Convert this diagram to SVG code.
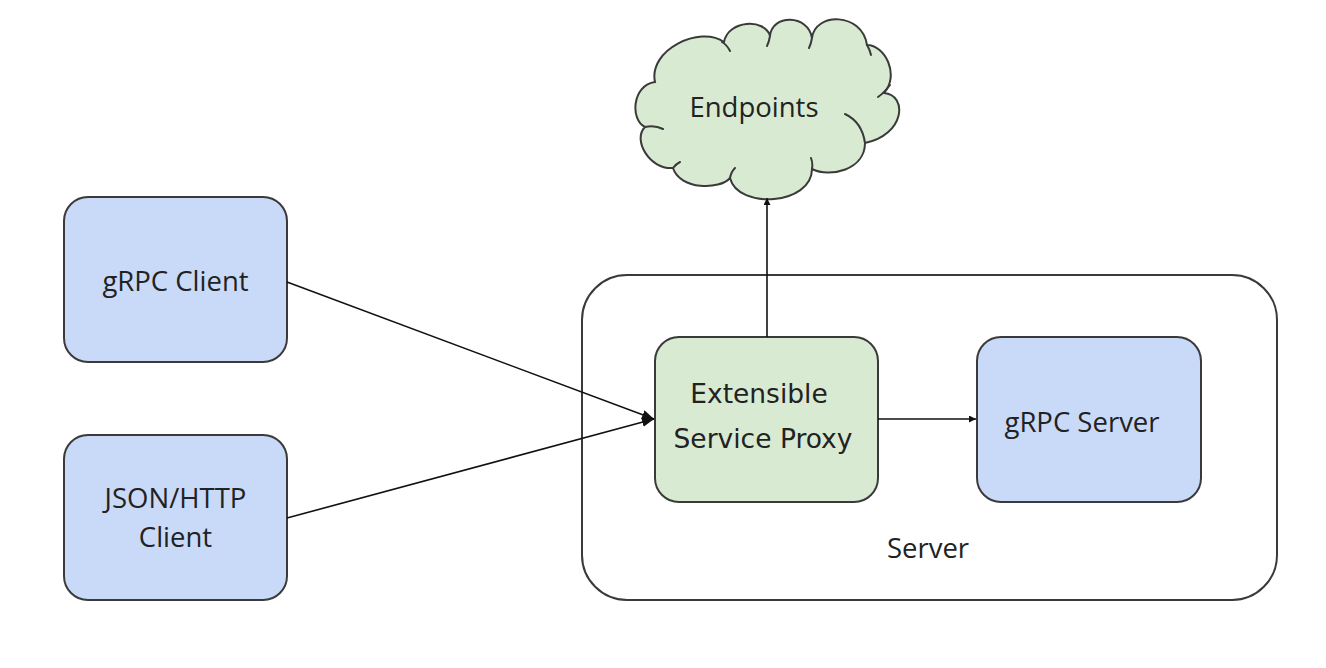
<svg xmlns="http://www.w3.org/2000/svg" width="1326" height="668" viewBox="0 0 1326 668">
<style>
.box{stroke:#3a3a3a;stroke-width:2}
.blue{fill:#c9daf8}
.green{fill:#d9ead3}
.lbl{font-family:"Open Sans",Lato,sans-serif;font-size:27.5px;fill:#222;text-anchor:middle}
.dv{font-family:"DejaVu Sans",sans-serif;font-size:26.5px;fill:#222;text-anchor:middle}
.conn{stroke:#111;stroke-width:1.6;fill:none}
.inner{fill:none;stroke:#3a3a3a;stroke-width:2;stroke-linecap:round}
</style>
<defs>
<marker id="arr" viewBox="0 0 10 10" refX="10" refY="5" markerWidth="7" markerHeight="7" markerUnits="userSpaceOnUse" orient="auto">
<path d="M0,0 L10,5 L0,10 z" fill="#111"/>
</marker>
<marker id="arrL" viewBox="0 0 10 10" refX="10" refY="5" markerWidth="12" markerHeight="12" markerUnits="userSpaceOnUse" orient="auto">
<path d="M0,1 L10,5 L0,9 z" fill="#111"/>
</marker>
</defs>
<rect width="1326" height="668" fill="#ffffff"/>
<g id="server">
<rect class="box" x="582" y="275" width="695" height="325" rx="45" ry="45" fill="#ffffff"/>
<text class="lbl" x="928" y="558">Server</text>
</g>
<g id="endpoints">
<path class="box green" d="M645,127 C630,120 632,85 655,82 C648,50 700,25 724,42 C728,20 765,18 770,36 C772,14 808,14 812,38 C815,12 862,12 867,45 C885,45 900,75 884,93 C908,95 905,135 865,143 C865,170 830,178 812,169 C812,205 738,210 730,178 C720,190 680,190 673,168 C650,170 632,140 645,127 Z"/>
<path class="inner" d="M645,127 Q655,125 663,129 M722,42 Q727,45 730,51 M770,36 Q769,42 767,46 M812,38 Q811,44 809,48 M867,45 Q870,50 871,55 M878,97 Q884,93 890,85 M845,114 Q862,122 865,143 M812,169 Q813,163 811,158 M730,178 Q731,172 735,168 M673,168 Q676,164 680,162"/>
<text class="lbl" x="754" y="117">Endpoints</text>
</g>
<g id="grpc-client">
<rect class="box blue" x="64" y="197" width="223" height="165" rx="24" ry="24"/>
<text class="lbl" x="175.5" y="291">gRPC Client</text>
</g>
<g id="json-client">
<rect class="box blue" x="64" y="435" width="223" height="165" rx="24" ry="24"/>
<text class="lbl" x="175.5" y="508">JSON/HTTP</text>
<text class="lbl" x="175.5" y="547">Client</text>
</g>
<g id="esp">
<rect class="box green" x="655" y="337" width="223" height="165" rx="24" ry="24"/>
<text class="dv" x="759" y="403">Extensible</text>
<text class="dv" x="763" y="448">Service Proxy</text>
</g>
<g id="grpc-server">
<rect class="box blue" x="977" y="337" width="224" height="165" rx="24" ry="24"/>
<text class="lbl" x="1082" y="432">gRPC Server</text>
</g>
<g id="connectors">
<line class="conn" x1="287" y1="282" x2="654" y2="419" marker-end="url(#arrL)"/>
<line class="conn" x1="287" y1="518" x2="654" y2="419" marker-end="url(#arrL)"/>
<line class="conn" x1="767" y1="337" x2="767" y2="198" marker-end="url(#arr)"/>
<line class="conn" x1="878" y1="419" x2="976" y2="419" marker-end="url(#arr)"/>
</g>
</svg>
